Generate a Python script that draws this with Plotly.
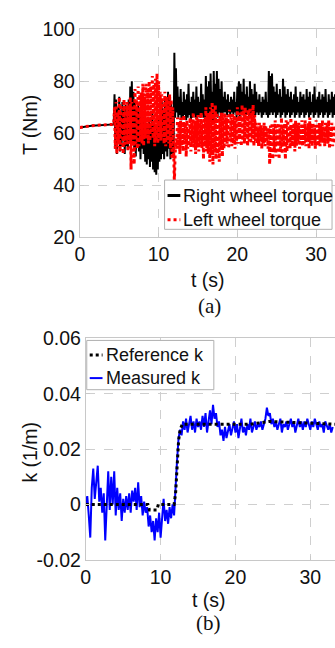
import plotly.graph_objects as go

# ---------------- data ----------------
# (a) wheel torques
t_flat = [0.0, 0.5, 1.0, 1.5, 2.0, 2.5, 3.0, 3.5, 4.0, 4.3]
T_flat = [62.2, 62.5, 62.7, 62.9, 63.0, 63.1, 63.2, 63.3, 63.4, 63.4]

T_right_osc = [
    75, 54, 73, 52, 70, 56, 74, 53, 68, 55, 72, 57, 69, 52, 71, 55, 67, 54, 73, 56,
    78, 55, 80, 57, 76, 54, 72, 51, 70, 55, 71, 53, 68, 50, 69, 54, 66, 52, 67, 49,
    64, 48, 62, 50, 66, 47, 63, 49, 68, 46, 64, 45, 60, 44, 62, 46, 67, 49, 70, 50,
    72, 52, 69, 50, 74, 53, 71, 51, 76, 54, 73, 50, 72, 52, 70, 51, 91, 66, 85, 68,
    78, 66, 74, 67, 77, 65, 72, 66, 76, 67, 73, 65, 75, 66, 79, 67, 72, 65, 74, 66,
    76, 67, 73, 66, 78, 65, 74, 67, 72, 66, 79, 67, 75, 66, 73, 65, 82, 66, 78, 67,
    80, 66, 83, 67, 76, 65, 84, 66, 79, 67, 84, 66, 81, 68, 77, 66, 80, 67, 74, 68,
    76, 68, 73, 67, 75, 68, 72, 67, 74, 68, 73, 67, 76, 68, 72, 66, 78, 67, 80, 66,
    79, 67, 76, 68, 81, 66, 75, 67, 78, 68, 74, 66, 80, 67, 77, 68, 75, 66, 79, 67,
    76, 68, 73, 67, 75, 68, 72, 66, 74, 67, 73, 68, 76, 67, 72, 66, 84, 67, 82, 68,
    83, 67, 78, 68, 76, 66, 79, 67, 75, 68, 77, 66, 74, 67, 81, 68, 78, 66, 75, 67,
    77, 68, 74, 66, 76, 67, 73, 68, 75, 66, 78, 67, 74, 68, 72, 66, 76, 67, 74, 68,
    75, 66, 73, 67, 77, 68, 74, 66, 76, 67, 72, 68, 75, 66, 78, 67, 73, 68, 74, 66,
    76, 67, 73, 68, 75, 66, 74, 67, 77, 68, 72, 66, 75, 67, 73, 68, 76, 66, 74, 67,
    75, 68, 73, 66, 76, 67, 74,
]
T_left_osc = [
    70, 54, 72, 52, 68, 56, 74, 53, 71, 58, 66, 52, 73, 55, 69, 57, 72, 53, 70, 56,
    74, 46, 72, 55, 70, 48, 77, 56, 73, 54, 78, 55, 75, 57, 76, 56, 79, 55, 74, 58,
    79, 58, 77, 56, 80, 57, 78, 60, 82, 58, 79, 55, 81, 57, 83, 56, 80, 58, 76, 57,
    75, 58, 73, 56, 76, 55, 74, 57, 72, 56, 75, 54, 73, 50, 70, 47, 41, 52, 58, 54,
    66, 54, 64, 52, 66, 55, 63, 53, 67, 56, 64, 51, 65, 54, 62, 55, 66, 53, 64, 56,
    68, 54, 65, 52, 66, 55, 67, 53, 64, 56, 68, 54, 65, 50, 66, 55, 70, 53, 67, 52,
    68, 49, 70, 52, 72, 48, 69, 53, 71, 50, 68, 52, 66, 49, 67, 54, 68, 51, 66, 54,
    68, 55, 66, 56, 67, 54, 69, 57, 66, 55, 68, 56, 67, 54, 65, 57, 70, 56, 68, 58,
    68, 55, 71, 57, 69, 56, 70, 58, 67, 55, 69, 57, 70, 56, 68, 58, 71, 55, 67, 57,
    64, 56, 62, 55, 64, 57, 63, 54, 62, 56, 64, 55, 63, 57, 62, 54, 62, 48, 63, 50,
    64, 50, 62, 53, 65, 51, 63, 55, 64, 50, 62, 54, 66, 52, 63, 55, 64, 50, 65, 53,
    65, 56, 63, 54, 66, 55, 62, 56, 64, 53, 65, 55, 63, 57, 64, 54, 62, 56, 65, 55,
    63, 56, 65, 55, 62, 57, 64, 54, 66, 56, 63, 55, 64, 57, 62, 54, 65, 56, 63, 55,
    64, 55, 63, 57, 65, 56, 62, 55, 64, 57, 63, 56, 65, 54, 62, 57, 64, 55, 63, 56,
    63, 56, 65, 55, 64, 56, 63,
]
t_osc_start = 4.4
t_osc_step = 0.1

# (b) curvature
k_meas = [
    0.000, 0.003, -0.004, -0.012, 0.006, 0.013, 0.002, 0.008, 0.014, 0.001,
    0.006, -0.003, 0.004, -0.013, 0.002, 0.012, -0.002, 0.010, 0.000, 0.012,
    -0.004, 0.006, -0.002, 0.004, -0.006, 0.002, -0.003, 0.003, -0.002, 0.004,
    -0.003, 0.005, 0.001, 0.006, -0.002, 0.008, -0.001, 0.003, -0.004, 0.001,
    -0.003, -0.001, -0.008, -0.004, -0.010, -0.006, -0.013, -0.005, -0.010, -0.003,
    -0.012, -0.004, 0.002, -0.006, -0.002, -0.007, -0.001, -0.005, 0.000, -0.004,
    0.004, 0.016, 0.024, 0.027, 0.025, 0.030,
    0.027, 0.031, 0.026, 0.029, 0.032, 0.027, 0.030, 0.026, 0.031, 0.028,
    0.030, 0.027, 0.032, 0.028, 0.033, 0.026, 0.031, 0.034, 0.029, 0.036,
    0.031, 0.033, 0.028, 0.030, 0.025, 0.027, 0.023, 0.028, 0.024, 0.027,
    0.029, 0.025, 0.028, 0.030, 0.026, 0.029, 0.024, 0.028, 0.031, 0.026,
    0.028, 0.025, 0.029, 0.027, 0.031, 0.026, 0.028, 0.030, 0.027, 0.029,
    0.028, 0.030, 0.027, 0.029, 0.031, 0.035, 0.032, 0.033, 0.029, 0.031,
    0.028, 0.030, 0.027, 0.029, 0.031, 0.026, 0.029, 0.028, 0.030, 0.027,
    0.029, 0.031, 0.028, 0.030, 0.026, 0.029, 0.031, 0.028, 0.030, 0.027,
    0.030, 0.028, 0.031, 0.029, 0.027, 0.030, 0.028, 0.031, 0.029, 0.027,
    0.030, 0.028, 0.029, 0.026, 0.030, 0.028, 0.027, 0.029, 0.026, 0.028,
]
k_step = 0.2
t_ref = [0, 8.3, 8.5, 9.5, 9.7, 11.8, 12.0, 12.2, 12.4, 12.6, 12.9, 16, 22, 24.5, 33.3]
k_ref = [0, 0, -0.002, -0.002, 0, 0, 0.004, 0.015, 0.023, 0.027, 0.029, 0.029, 0.029, 0.030, 0.029]

ticks_a_x = [0, 10, 20, 30]
ticks_a_y = [20, 40, 60, 80, 100]
ticks_b_y = [-0.02, 0, 0.02, 0.04, 0.06]
ticklabels_b_y = ["-0.02", "0", "0.02", "0.04", "0.06"]

# ---------------- build ----------------
W, H = 335, 648
t_osc = [round(t_osc_start + t_osc_step * i, 2) for i in range(len(T_right_osc))]
t_a = t_flat + t_osc
T_right = T_flat + T_right_osc
T_left = T_flat + T_left_osc
t_k = [round(k_step * i, 2) for i in range(len(k_meas))]


def px(x):
    return x / W


def py(y):
    return 1 - y / H


fig = go.Figure()
fig.add_trace(go.Scatter(x=t_a, y=T_right, mode="lines", name="Right wheel torque",
                         line=dict(color="black", width=2), xaxis="x", yaxis="y"))
fig.add_trace(go.Scatter(x=t_a, y=T_left, mode="lines", name="Left wheel torque",
                         line=dict(color="red", width=3, dash="dot"), xaxis="x", yaxis="y"))
fig.add_trace(go.Scatter(x=t_k, y=k_meas, mode="lines", name="Measured k",
                         line=dict(color="blue", width=2), xaxis="x2", yaxis="y2"))
fig.add_trace(go.Scatter(x=t_ref, y=k_ref, mode="lines", name="Reference k",
                         line=dict(color="black", width=3, dash="dot"), xaxis="x2", yaxis="y2"))

FONT = "Liberation Sans, Arial, sans-serif"
SERIF = "Liberation Serif, Times New Roman, serif"
TXT = "#111111"
axcol = "#c8c8c8"
gridcol = "#cfcfcf"
TICK = 19.5

common_x = dict(showline=True, linecolor=axcol, linewidth=1, mirror=True,
                showgrid=True, gridcolor=gridcol, griddash="dash", gridwidth=1,
                ticks="inside", ticklen=4, tickcolor=axcol, zeroline=False,
                tickfont=dict(family=FONT, size=TICK, color=TXT))
common_y = dict(showline=True, linecolor=axcol, linewidth=1, mirror=False,
                showgrid=True, gridcolor=gridcol, griddash="dash", gridwidth=1,
                ticks="inside", ticklen=4, tickcolor=axcol, zeroline=False,
                tickfont=dict(family=FONT, size=TICK, color=TXT))

fig.update_layout(
    width=W, height=H, margin=dict(l=0, r=0, t=0, b=0),
    paper_bgcolor="white", plot_bgcolor="white", showlegend=False,
    xaxis=dict(domain=[px(76), 1.0], range=[0, 32.4], tickvals=ticks_a_x,
               anchor="y", **common_x),
    yaxis=dict(domain=[py(234), py(19)], range=[20, 100], tickvals=ticks_a_y,
               anchor="x", **common_y),
    xaxis2=dict(domain=[px(82), 1.0], range=[0, 33.3], tickvals=ticks_a_x,
                anchor="y2", **common_x),
    yaxis2=dict(domain=[py(568), py(339)], range=[-0.02, 0.06], tickvals=ticks_b_y,
                ticktext=ticklabels_b_y, anchor="x2", **common_y),
)

annots = [
    dict(text="T (Nm)", x=px(25.5), y=py(118), textangle=-90, size=19.5, fam=FONT),
    dict(text="t (s)", x=px(206.5), y=py(278), textangle=0, size=19.5, fam=FONT),
    dict(text="(a)", x=px(207.5), y=py(305), textangle=0, size=21, fam=SERIF),
    dict(text="k (1/m)", x=px(25.5), y=py(457), textangle=-90, size=19.5, fam=FONT),
    dict(text="t (s)", x=px(207), y=py(610), textangle=0, size=19.5, fam=FONT),
    dict(text="(b)", x=px(207), y=py(634), textangle=0, size=21, fam=SERIF),
]
for a in annots:
    fig.add_annotation(text=a["text"], x=a["x"], y=a["y"], xref="paper", yref="paper",
                       showarrow=False, textangle=a["textangle"], xanchor="center",
                       yanchor="middle", font=dict(family=a["fam"], size=a["size"], color=TXT))

# manual legends
legends = [
    dict(box=(162, 175, 332, 226), rows=[
        ("Right wheel torque", 191, dict(color="black", width=3)),
        ("Left wheel torque", 216, dict(color="red", width=3, dash="dot")),
    ]),
    dict(box=(83, 341, 212, 392), rows=[
        ("Reference k", 356, dict(color="black", width=3, dash="dot")),
        ("Measured k", 380, dict(color="blue", width=2)),
    ]),
]
for lg in legends:
    x0, y0, x1, y1 = lg["box"]
    fig.add_shape(type="rect", xref="paper", yref="paper", x0=px(x0), x1=px(x1),
                  y0=py(y1), y1=py(y0), line=dict(color="#b0b0b0", width=1),
                  fillcolor="white", layer="above")
    for label, yy, ln in lg["rows"]:
        fig.add_shape(type="line", xref="paper", yref="paper", x0=px(x0 + 3), x1=px(x0 + 16),
                      y0=py(yy), y1=py(yy), line=ln, layer="above")
        fig.add_annotation(text=label, x=px(x0 + 17), y=py(yy), xref="paper", yref="paper",
                           showarrow=False, xanchor="left", yanchor="middle",
                           font=dict(family=FONT, size=18, color=TXT))

fig.write_html("out.html", config={"displayModeBar": False})
